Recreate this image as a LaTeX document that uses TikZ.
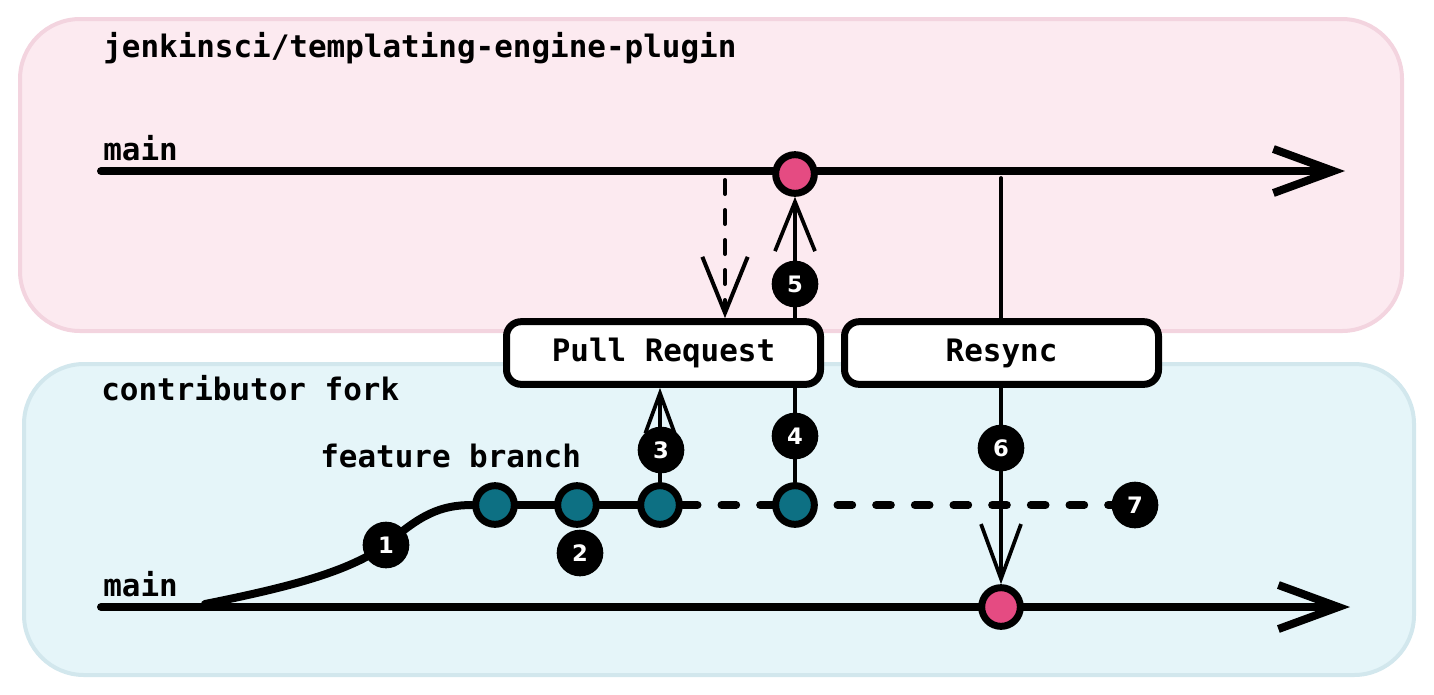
\documentclass[tikz,border=0pt]{standalone}
\usepackage{fontspec}
\setmonofont{DejaVu Sans Mono}
\setsansfont{DejaVu Sans}
\usetikzlibrary{arrows.meta}

\definecolor{upfill}{HTML}{FCEAF0}
\definecolor{updraw}{HTML}{F3D4DF}
\definecolor{forkfill}{HTML}{E5F5F9}
\definecolor{forkdraw}{HTML}{D2E7ED}
\definecolor{mergepink}{HTML}{E54B82}
\definecolor{featteal}{HTML}{0D7083}

\pgfdeclarelayer{panels}
\pgfdeclarelayer{wires}
\pgfsetlayers{panels,wires,main}

\tikzset{
  panel/.style={rounded corners=45pt, line width=3pt},
  txt/.style={font=\ttfamily\bfseries\fontsize{23.2}{28}\selectfont, inner sep=0pt, anchor=base west},
  commit/.style={circle, draw=black, line width=5.25pt, minimum size=29pt, inner sep=0pt},
  badge/.style={circle, fill=black, minimum size=35pt, inner sep=0pt, text=white,
    font=\sffamily\bfseries\fontsize{17}{17}\selectfont},
  action/.style={draw=black, line width=5.25pt, rounded corners=11pt, fill=white,
    minimum width=235.5pt, minimum height=47pt, inner sep=0pt,
    font=\ttfamily\bfseries\fontsize{23.2}{28}\selectfont},
  branch/.style={line width=6pt, line cap=round, line join=round},
  flow/.style={line width=2.8pt, line cap=round, line join=round},
}

\begin{document}
\begin{tikzpicture}[x=0.75pt, y=-0.75pt]
  \useasboundingbox (0,0) rectangle (1434,694);

  % repositories
  \begin{pgfonlayer}{panels}
    \draw[panel, fill=upfill, draw=updraw] (20,19) rectangle (1402,331);
    \draw[panel, fill=forkfill, draw=forkdraw] (24,364) rectangle (1414,675);
  \end{pgfonlayer}

  \node[txt] (repo) at (103,57) {jenkinsci/templating-engine-plugin};
  \node[txt] (upmain) at (103,160) {main};
  \node[txt] (fork) at (101,400) {contributor fork};
  \node[txt] (feat) at (320,467) {feature branch};
  \node[txt] (forkmain) at (103,596) {main};

  % branch ends
  \coordinate (topL) at (101,171);
  \coordinate (topR) at (1345,171);
  \coordinate (botL) at (101,607);
  \coordinate (botR) at (1350,607);
  \coordinate (forkpt) at (205,604);
  \coordinate (tapPR) at (725,180);
  \coordinate (tapSync) at (1001,178);

  % commits
  \node[commit, fill=mergepink] (tc) at (795,174) {};
  \node[commit, fill=featteal] (c1) at (495,505) {};
  \node[commit, fill=featteal] (c2) at (577,505) {};
  \node[commit, fill=featteal] (c3) at (660,505) {};
  \node[commit, fill=featteal] (c4) at (795,505) {};
  \node[commit, fill=mergepink] (bc) at (1001,607) {};

  % actions
  \node[action] (pr) at (663.5,353) {Pull Request};
  \node[action] (sync) at (1001.5,353) {Resync};

  % steps
  \node[badge] (b1) at (386,545) {1};
  \node[badge] (b2) at (580,553) {2};
  \node[badge] (b3) at (661,450) {3};
  \node[badge] (b4) at (795,436) {4};
  \node[badge] (b5) at (795,284) {5};
  \node[badge] (b6) at (1001,448) {6};
  \node[badge] (b7) at (1135,505) {7};

  \begin{pgfonlayer}{wires}
    \draw[branch, -{Straight Barb[length=45pt, width=33pt]}] (topL) -- (topR);
    \draw[branch, -{Straight Barb[length=45pt, width=33pt]}] (botL) -- (botR);
    \draw[branch] (forkpt) .. controls (300,585) and (350,570) .. (b1.center)
      .. controls (420,515) and (440,505) .. (c1.west);
    \draw[branch] (c1) -- (c2) -- (c3);
    \draw[branch, dash pattern=on 11pt off 18pt] (c3.east) -- (b7.west);
    \draw[line width=3pt, line cap=round, dash pattern=on 10.5pt off 12pt,
      -{Straight Barb[length=42pt, width=34pt]}] (tapPR) -- (tapPR |- pr.north);
    \draw[flow, -{Straight Barb[length=30pt, width=22pt]}] (c3.north) -- (c3.north |- pr.south);
    \draw[flow] (c4.north) -- (c4.north |- pr.south);
    \draw[flow, -{Straight Barb[length=37pt, width=30pt]}] (tc |- pr.north) -- (tc.south);
    \draw[flow] (tapSync) -- (tapSync |- sync.north);
    \draw[flow, -{Straight Barb[length=41pt, width=30pt]}] (bc |- sync.south) -- (bc.north);
  \end{pgfonlayer}
\end{tikzpicture}
\end{document}
